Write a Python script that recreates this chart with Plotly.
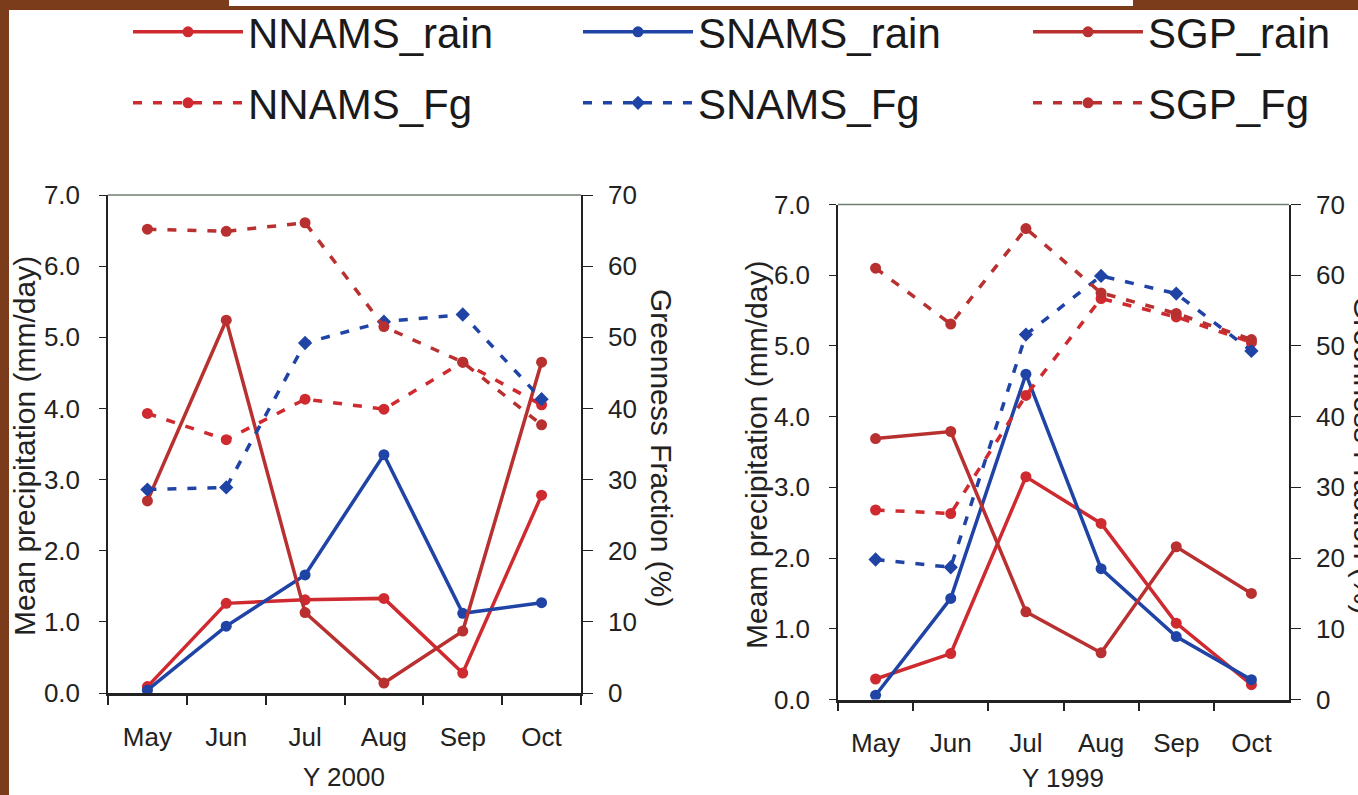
import plotly.graph_objects as go

# ---------------- data ----------------
months = ["May", "Jun", "Jul", "Aug", "Sep", "Oct"]

# Y 2000 (precipitation mm/day, greenness %)
nnams_rain_2000 = [0.09, 1.26, 1.31, 1.33, 0.28, 2.78]
snams_rain_2000 = [0.04, 0.94, 1.66, 3.35, 1.12, 1.27]
sgp_rain_2000 = [2.70, 5.24, 1.13, 0.14, 0.87, 4.65]
nnams_fg_2000 = [39.3, 35.6, 41.3, 39.9, 46.5, 40.5]
snams_fg_2000 = [28.6, 28.9, 49.2, 52.2, 53.2, 41.3]
sgp_fg_2000 = [65.2, 64.9, 66.1, 51.5, 46.5, 37.7]

# Y 1999
nnams_rain_1999 = [0.29, 0.65, 3.15, 2.49, 1.08, 0.21]
snams_rain_1999 = [0.06, 1.43, 4.60, 1.85, 0.89, 0.28]
sgp_rain_1999 = [3.69, 3.79, 1.24, 0.66, 2.16, 1.50]
nnams_fg_1999 = [26.8, 26.3, 43.0, 56.7, 54.1, 50.5]
snams_fg_1999 = [19.8, 18.7, 51.6, 59.9, 57.4, 49.3]
sgp_fg_1999 = [61.0, 53.1, 66.6, 57.5, 54.6, 50.9]

W, H = 1358, 795
FONT = "Liberation Sans, Arial, sans-serif"
RED_N = "#cf2a30"
RED_S = "#b8302f"
BLUE = "#1f44a6"
DASH = "9px,11px"

fig = go.Figure()


def add(y, name, color, dash, symbol, xa, ya, showlegend, legend):
    fig.add_trace(go.Scatter(
        x=months, y=y, name=name, mode="lines+markers",
        line=dict(color=color, width=3.5, dash=dash),
        marker=dict(symbol=symbol, size=11, color=color),
        xaxis=xa, yaxis=ya, showlegend=showlegend, legend=legend,
    ))


# left panel (Y 2000)
add(nnams_rain_2000, "NNAMS_rain", RED_N, "solid", "circle", "x", "y", True, "legend")
add(snams_rain_2000, "SNAMS_rain", BLUE, "solid", "circle", "x", "y", True, "legend")
add(sgp_rain_2000, "SGP_rain", RED_S, "solid", "circle", "x", "y", True, "legend")
add(nnams_fg_2000, "NNAMS_Fg", RED_N, DASH, "circle", "x", "y2", True, "legend2")
add(snams_fg_2000, "SNAMS_Fg", BLUE, DASH, "diamond", "x", "y2", True, "legend2")
add(sgp_fg_2000, "SGP_Fg", RED_S, DASH, "circle", "x", "y2", True, "legend2")

# right panel (Y 1999)
add(nnams_rain_1999, "NNAMS_rain", RED_N, "solid", "circle", "x2", "y3", False, "legend")
add(snams_rain_1999, "SNAMS_rain", BLUE, "solid", "circle", "x2", "y3", False, "legend")
add(sgp_rain_1999, "SGP_rain", RED_S, "solid", "circle", "x2", "y3", False, "legend")
add(nnams_fg_1999, "NNAMS_Fg", RED_N, DASH, "circle", "x2", "y4", False, "legend2")
add(snams_fg_1999, "SNAMS_Fg", BLUE, DASH, "diamond", "x2", "y4", False, "legend2")
add(sgp_fg_1999, "SGP_Fg", RED_S, DASH, "circle", "x2", "y4", False, "legend2")


def px_x(p):
    return p / W


def px_y(p):
    return 1 - p / H


tickfont = dict(family=FONT, size=26, color="#222")


def xaxis_cfg(x0, x1, anchor):
    return dict(domain=[px_x(x0), px_x(x1)], anchor=anchor, type="category",
                range=[-0.5, 5.5], showline=True, linecolor="#222", linewidth=2.5,
                ticks="outside", tickson="boundaries", ticklen=9, tickcolor="#222",
                tickwidth=1.5, showgrid=False, zeroline=False, tickfont=tickfont,
                ticklabelstandoff=19, automargin=False)


def yleft_cfg(y0, y1, anchor):
    return dict(domain=[px_y(y1), px_y(y0)], anchor=anchor, range=[0, 7], dtick=1,
                tickformat=".1f", showline=True, linecolor="#222", linewidth=1.5,
                ticks="outside", ticklen=7, tickcolor="#222", showgrid=False,
                zeroline=False, tickfont=tickfont, ticklabelstandoff=14,
                automargin=False)


def yright_cfg(overlay, anchor):
    return dict(overlaying=overlay, anchor=anchor, side="right", range=[0, 70],
                dtick=10, showline=True, linecolor="#222", linewidth=1.5,
                ticks="outside", ticklen=10, tickcolor="#222", showgrid=False,
                zeroline=False, tickfont=tickfont, ticklabelstandoff=10,
                automargin=False)


legend_common = dict(orientation="h", font=dict(family=FONT, size=42, color="#1a1a1a"),
                     itemwidth=110, entrywidth=325, entrywidthmode="pixels",
                     bgcolor="rgba(0,0,0,0)", xanchor="left", yanchor="middle",
                     xref="container", yref="container", itemclick=False)

fig.update_layout(
    width=W, height=H,
    margin=dict(l=0, r=0, t=0, b=0, autoexpand=False),
    paper_bgcolor="white", plot_bgcolor="white",
    font=dict(family=FONT, color="#222"),
    xaxis=xaxis_cfg(108, 581, "y"),
    yaxis=yleft_cfg(195, 693, "x"),
    yaxis2=yright_cfg("y", "x"),
    xaxis2=xaxis_cfg(838, 1289, "y3"),
    yaxis3=yleft_cfg(204.5, 699.5, "x2"),
    yaxis4=yright_cfg("y3", "x2"),
    legend=dict(legend_common, x=px_x(128), y=px_y(32)),
    legend2=dict(legend_common, x=px_x(128), y=px_y(103)),
)

# frame top lines
for xr, yr in (("x domain", "y domain"), ("x2 domain", "y3 domain")):
    fig.add_shape(type="line", xref=xr, yref=yr, x0=0, x1=1, y0=1, y1=1,
                  line=dict(color="#6f7f6f", width=1.5))

# page decoration (brown slide background at edges)
BROWN = "#7a3c1b"
fig.add_shape(type="rect", xref="paper", yref="paper", x0=0, x1=px_x(9), y0=0, y1=1,
              fillcolor=BROWN, line=dict(width=0), layer="above")
fig.add_shape(type="rect", xref="paper", yref="paper", x0=0, x1=1, y0=px_y(10), y1=1,
              fillcolor=BROWN, line=dict(width=0), layer="above")
fig.add_shape(type="rect", xref="paper", yref="paper", x0=px_x(229), x1=px_x(1133),
              y0=px_y(6), y1=1, fillcolor="white", line=dict(width=0), layer="above")

# axis titles
tfont = dict(family=FONT, size=30, color="#222")
titles = [
    ("Y 2000", 344, 777, 0, 26),
    ("Y 1999", 1063, 778, 0, 26),
    ("Mean precipitation (mm/day)", 24, 446, -90, 30),
    ("Meam precipitation (mm/day)", 756, 455, -90, 30),
    ("Greenness Fraction (%)", 662, 448, 90, 30),
    ("Greenness Fraction (%)", 1365, 455, 90, 30),
]
for text, x, y, ang, size in titles:
    fig.add_annotation(text=text, xref="paper", yref="paper", x=px_x(x), y=px_y(y),
                       xanchor="center", yanchor="middle", showarrow=False,
                       textangle=ang, font=dict(tfont, size=size))

fig.write_html("out.html")
